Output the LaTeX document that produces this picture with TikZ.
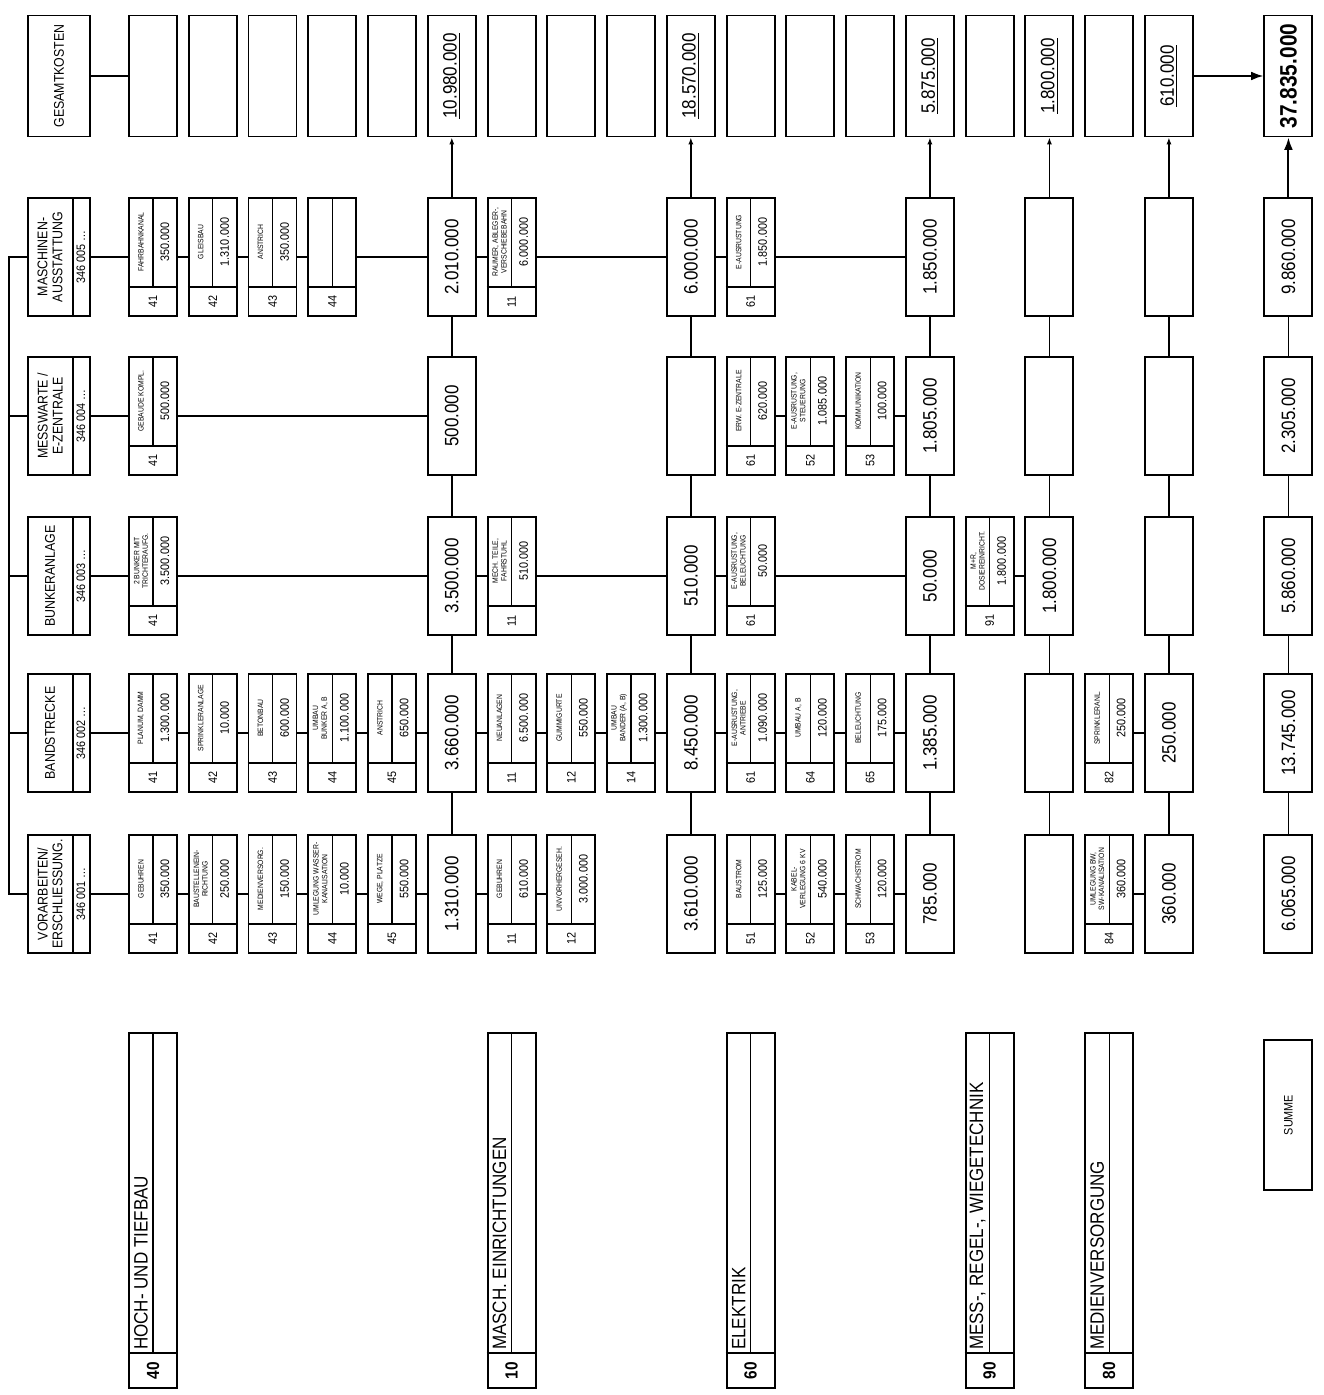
\documentclass[tikz,border=0pt]{standalone}
\usepackage{fontspec}
\setmainfont{Liberation Sans}[FakeStretch=0.88]
\usetikzlibrary{arrows.meta}

\begin{document}
\begin{tikzpicture}[x=0.2mm, y=0.2mm,
	box/.style={draw, line width=1.1pt, inner sep=0pt},
	itembox/.style={box, minimum width=9.6mm, minimum height=23.6mm},
	sumbox/.style={box, minimum width=9.6mm, minimum height=23.6mm, font=\fontsize{11}{12}\selectfont},
	topbox/.style={box, minimum width=9.6mm, minimum height=24.2mm, font=\fontsize{11}{12}\selectfont},
	hdrbox/.style={box, minimum width=12.4mm, minimum height=23.6mm},
	catbox/.style={box, minimum width=9.6mm, minimum height=71mm},
	divider/.style={line width=0.7pt},
	link/.style={line width=0.8pt},
	labtext/.style={rotate=90, align=center, inner sep=0pt, font=\fontsize{4.4}{4.9}\selectfont},
	valtext/.style={rotate=90, inner sep=0pt, font=\fontsize{7}{8}\selectfont},
	numtext/.style={rotate=90, inner sep=0pt, font=\fontsize{7}{8}\selectfont},
	hdrtext/.style={rotate=90, align=center, inner sep=0pt, font=\fontsize{8}{8.5}\selectfont},
	codetext/.style={rotate=90, inner sep=0pt, font=\fontsize{7}{8}\selectfont},
	cattext/.style={rotate=90, inner sep=1pt, font=\fontsize{11}{12}\selectfont},
	catnum/.style={rotate=90, inner sep=0pt, font=\fontsize{10}{11}\selectfont\bfseries}]
	
	\useasboundingbox (0,0) rectangle (1323,-1395);
	
	%--- top row: totals per group ---
	\node[hdrbox, minimum height=24.2mm] (hdrA) at (59,-76) {\rotatebox{90}{\fontsize{8}{9}\selectfont GESAMTKOSTEN}};
	\foreach \col/\amt in {0/{},1/{},2/{},3/{},4/{},5/\underline{10.980.000},6/{},7/{},8/{},9/\underline{18.570.000},10/{},11/{},12/{},13/\underline{5.875.000},14/{},15/\underline{1.800.000},16/{},17/\underline{610.000}}
	\node[topbox] (top\col) at ({153+59.76*\col},-76) {\rotatebox{90}{\amt}};
	\node[topbox, font=\fontsize{13.5}{14}\selectfont\bfseries] (top19) at ({153+59.76*19},-76) {\rotatebox{90}{37.835.000}};
	
	%--- object headers (346 00x) ---
	\foreach \nm/\yy/\ttl/\code in {hdrB/257/{MASCHINEN-\\AUSSTATTUNG}/346 005 \dots,
		hdrC/416/{MESSWARTE /\\E-ZENTRALE}/346 004 \dots,
		hdrD/576/BUNKERANLAGE/346 003 \dots,
		hdrE/733/BANDSTRECKE/346 002 \dots,
		hdrF/894/{VORARBEITEN/\\ERSCHLIESSUNG.}/346 001 \dots}{
		\node[hdrbox] (\nm) at (59,-\yy) {};
		\draw[divider] ([xshift=-3.6mm]\nm.north east) -- ([xshift=-3.6mm]\nm.south east);
		\node[hdrtext] (\nm-t) at ([xshift=-1.8mm]\nm.center) {\ttl};
		\node[codetext] (\nm-c) at ([xshift=4.4mm]\nm.center) {\code};
	}
	
	%--- single positions ---
	\foreach \nm/\col/\yy/\nr/\lbl/\amt in {
		B41/0/257/41/FAHRBAHNKANAL/350.000,
		B42/1/257/42/GLEISBAU/1.310.000,
		B43/2/257/43/ANSTRICH/350.000,
		B44/3/257/44/{}/{},
		B11/6/257/11/{RAUMER, ABLEGER-,\\VERSCHIEBEBAHN}/6.000.000,
		B61/10/257/61/E-AUSRUSTUNG/1.850.000,
		C41/0/416/41/GEBAUDE KOMPL./500.000,
		C61/10/416/61/ERW. E-ZENTRALE/620.000,
		C52/11/416/52/{E-AUSRUSTUNG,\\STEUERUNG}/1.085.000,
		C53/12/416/53/KOMMUNIKATION/100.000,
		D41/0/576/41/{2 BUNKER MIT\\TRICHTERAUFG.}/3.500.000,
		D11/6/576/11/{MECH. TEILE,\\FAHRSTUHL}/510.000,
		D61/10/576/61/{E-AUSRUSTUNG,\\BELEUCHTUNG}/50.000,
		D91/14/576/91/{M+R,\\DOSIEREINRICHT.}/1.800.000,
		E41/0/733/41/{PLANUM, DAMM}/1.300.000,
		E42/1/733/42/SPRINKLERANLAGE/10.000,
		E43/2/733/43/BETONBAU/600.000,
		E44/3/733/44/{UMBAU\\BUNKER A, B}/1.100.000,
		E45/4/733/45/ANSTRICH/650.000,
		E11/6/733/11/NEUANLAGEN/6.500.000,
		E12/7/733/12/GUMMIGURTE/550.000,
		E14/8/733/14/{UMBAU\\BANDER (A, B)}/1.300.000,
		E61/10/733/61/{E-AUSRUSTUNG,\\ANTRIEBE}/1.090.000,
		E64/11/733/64/{UMBAU A, B}/120.000,
		E65/12/733/65/BELEUCHTUNG/175.000,
		E82/16/733/82/SPRINKLERANL./250.000,
		F41/0/894/41/GEBUHREN/350.000,
		F42/1/894/42/{BAUSTELLENEIN-\\RICHTUNG}/250.000,
		F43/2/894/43/MEDIENVERSORG./150.000,
		F44/3/894/44/{UMLEGUNG WASSER-\\KANALISATION}/10.000,
		F45/4/894/45/{WEGE, PLATZE}/550.000,
		F11/6/894/11/GEBUHREN/610.000,
		F12/7/894/12/UNVORHERGESEH./3.000.000,
		F51/10/894/51/BAUSTROM/125.000,
		F52/11/894/52/{KABEL-\\VERLEGUNG 6 KV}/540.000,
		F53/12/894/53/SCHWACHSTROM/120.000,
		F84/16/894/84/{UMLEGUNG BW,\\SW-KANALISATION}/360.000}{
		\node[itembox] (\nm) at ({153+59.76*\col},-\yy) {};
		\draw[divider] ([yshift=6mm]\nm.south west) -- ([yshift=6mm]\nm.south east);
		\draw[divider] ([yshift=6mm]\nm.south) -- (\nm.north);
		\node[labtext] (\nm-lab) at ([xshift=-2.4mm,yshift=3mm]\nm.center) {\lbl};
		\node[valtext] (\nm-val) at ([xshift=2.4mm,yshift=3mm]\nm.center) {\amt};
		\node[numtext] (\nm-num) at ([yshift=3mm]\nm.south) {\nr};
	}
	
	%--- group sums per object ---
	\foreach \col/\rw/\yy/\amt in {5/B/257/2.010.000, 5/C/416/500.000, 5/D/576/3.500.000, 5/E/733/3.660.000, 5/F/894/1.310.000,
		9/B/257/6.000.000, 9/C/416/{}, 9/D/576/510.000, 9/E/733/8.450.000, 9/F/894/3.610.000,
		13/B/257/1.850.000, 13/C/416/1.805.000, 13/D/576/50.000, 13/E/733/1.385.000, 13/F/894/785.000,
		15/B/257/{}, 15/C/416/{}, 15/D/576/1.800.000, 15/E/733/{}, 15/F/894/{},
		17/B/257/{}, 17/C/416/{}, 17/D/576/{}, 17/E/733/250.000, 17/F/894/360.000,
		19/B/257/9.860.000, 19/C/416/2.305.000, 19/D/576/5.860.000, 19/E/733/13.745.000, 19/F/894/6.065.000}
	\node[sumbox] (s\col\rw) at ({153+59.76*\col},-\yy) {\rotatebox{90}{\amt}};
	
	%--- trade groups (bottom) ---
	\foreach \nm/\col/\nr/\ttl in {cat40/0/40/HOCH- UND TIEFBAU, cat10/6/10/MASCH. EINRICHTUNGEN, cat60/10/60/ELEKTRIK,
		cat90/14/90/{MESS-, REGEL-, WIEGETECHNIK}, cat80/16/80/MEDIENVERSORGUNG}{
		\node[catbox] (\nm) at ({153+59.76*\col},-1210.5) {};
		\draw[divider] ([yshift=7.2mm]\nm.south west) -- ([yshift=7.2mm]\nm.south east);
		\draw[divider] ([yshift=7.2mm]\nm.south) -- (\nm.north);
		\node[cattext, anchor=west] (\nm-t) at ([xshift=-2.4mm,yshift=7.4mm]\nm.south) {\ttl};
		\node[catnum] (\nm-n) at ([yshift=3.6mm]\nm.south) {\nr};
	}
	\node[box, minimum width=9.6mm, minimum height=30mm] (catS) at ({153+59.76*19},-1115) {\rotatebox{90}{\fontsize{7}{8}\selectfont SUMME}};
	
	% spine to the object headers
	\draw[link] (hdrA.east) -- (top0.west);
	\draw[link] (hdrB.west) -- ++(-18,0) |- (hdrF.west);
	\foreach \nm in {hdrC,hdrD,hdrE}
	\draw[link] (\nm.west) -- ++(-18,0);
	
	% rows
	\foreach \a/\b in {hdrB/B41, B41/B42, B42/B43, B43/B44, B44/s5B, s5B/B11, B11/s9B, s9B/B61, B61/s13B,
		hdrC/C41, C41/s5C, C61/C52, C52/C53, C53/s13C,
		hdrD/D41, D41/s5D, s5D/D11, D11/s9D, s9D/D61, D61/s13D, D91/s15D,
		hdrE/E41, E41/E42, E42/E43, E43/E44, E44/E45, E45/s5E, s5E/E11, E11/E12, E12/E14, E14/s9E, s9E/E61, E61/E64, E64/E65, E65/s13E, E82/s17E,
		hdrF/F41, F41/F42, F42/F43, F43/F44, F44/F45, F45/s5F, s5F/F11, F11/F12, F51/F52, F52/F53, F53/s13F, F84/s17F}
	\draw[link] (\a.east) -- (\b.west);
	
	% sum columns
	\foreach \col in {5,9,13,15,17,19}{
		\foreach \lo/\hi in {F/E,E/D,D/C,C/B}
		\draw[link] (s\col\lo.north) -- (s\col\hi.south);
	}
	\foreach \col in {5,9,13,15,17}
	\draw[link, -{Latex[length=4pt,width=3pt]}] (s\col B.north) -- (top\col.south);
	
	% grand total
	\draw[line width=1.1pt, -{Latex[length=7pt,width=5pt]}] (s19B.north) -- (top19.south);
	\draw[line width=1.1pt, -{Latex[length=7pt,width=5pt]}] (top17.east) -- (top19.west);
	
\end{tikzpicture}
\end{document}
